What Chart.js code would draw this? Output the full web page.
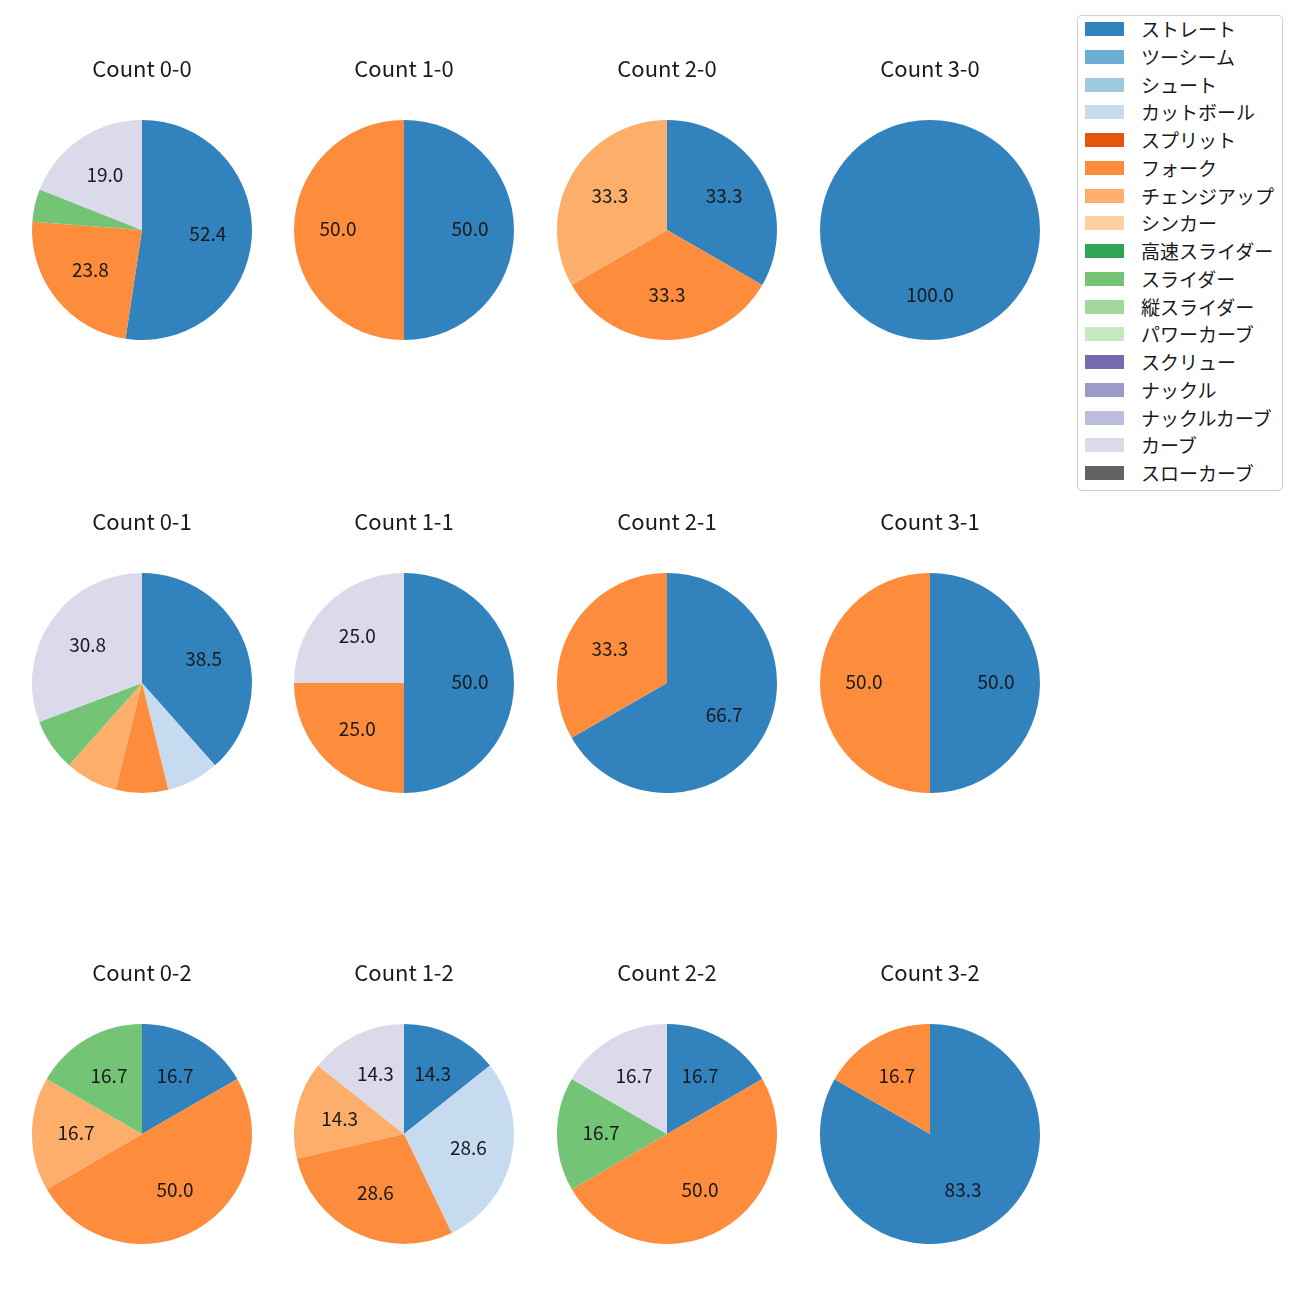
<!DOCTYPE html>
<html>
<head>
<meta charset="utf-8">
<script src="https://cdn.jsdelivr.net/npm/chart.js@4/dist/chart.umd.min.js"></script>
<style>
  body { margin: 0; background: #fff; }
  #wrap { position: relative; width: 1300px; height: 1300px; font-family: "Noto Sans CJK JP", sans-serif; }
  .pie { position: absolute; }
  #legend {
    position: absolute; left: 1077px; top: 15px; width: 204px; height: 474px;
    border: 1px solid #d0d0d0; border-radius: 4px; background: #fff;
  }
  .item { position: absolute; left: 0; height: 20px; font-size: 19px; line-height: 20px; color: #1a1a1a; }
  .swatch { position: absolute; left: 7px; top: 3px; width: 39px; height: 14px; }
  .item span { position: absolute; left: 63px; top: 0; white-space: nowrap; }
</style>
</head>
<body>
<div id="wrap"><div id="legend"></div></div>
<script>
// pitch types and colours (tab20c)
const pitchTypes = ['ストレート', 'ツーシーム', 'シュート', 'カットボール', 'スプリット', 'フォーク',
  'チェンジアップ', 'シンカー', '高速スライダー', 'スライダー', '縦スライダー', 'パワーカーブ',
  'スクリュー', 'ナックル', 'ナックルカーブ', 'カーブ', 'スローカーブ'];
const pitchColors = ['#3182bd', '#6baed6', '#9ecae1', '#c6dbef', '#e6550d', '#fd8d3c',
  '#fdae6b', '#fdd0a2', '#31a354', '#74c476', '#a1d99b', '#c7e9c0',
  '#756bb1', '#9e9ac8', '#bcbddc', '#dadaeb', '#636363'];

// percentage per pitch type, same order as pitchTypes
const count00 = [52.4, 0, 0, 0, 0, 23.8, 0, 0, 0, 4.8, 0, 0, 0, 0, 0, 19.0, 0];
const count10 = [50.0, 0, 0, 0, 0, 50.0, 0, 0, 0, 0, 0, 0, 0, 0, 0, 0, 0];
const count20 = [33.3, 0, 0, 0, 0, 33.3, 33.3, 0, 0, 0, 0, 0, 0, 0, 0, 0, 0];
const count30 = [100.0, 0, 0, 0, 0, 0, 0, 0, 0, 0, 0, 0, 0, 0, 0, 0, 0];
const count01 = [38.5, 0, 0, 7.7, 0, 7.7, 7.7, 0, 0, 7.7, 0, 0, 0, 0, 0, 30.8, 0];
const count11 = [50.0, 0, 0, 0, 0, 25.0, 0, 0, 0, 0, 0, 0, 0, 0, 0, 25.0, 0];
const count21 = [66.7, 0, 0, 0, 0, 33.3, 0, 0, 0, 0, 0, 0, 0, 0, 0, 0, 0];
const count31 = [50.0, 0, 0, 0, 0, 50.0, 0, 0, 0, 0, 0, 0, 0, 0, 0, 0, 0];
const count02 = [16.7, 0, 0, 0, 0, 50.0, 16.7, 0, 0, 16.7, 0, 0, 0, 0, 0, 0, 0];
const count12 = [14.3, 0, 0, 28.6, 0, 28.6, 14.3, 0, 0, 0, 0, 0, 0, 0, 0, 14.3, 0];
const count22 = [16.7, 0, 0, 0, 0, 50.0, 0, 0, 0, 16.7, 0, 0, 0, 0, 0, 16.7, 0];
const count32 = [83.3, 0, 0, 0, 0, 16.7, 0, 0, 0, 0, 0, 0, 0, 0, 0, 0, 0];

const countTitles = [
  ['Count 0-0', 'Count 1-0', 'Count 2-0', 'Count 3-0'],
  ['Count 0-1', 'Count 1-1', 'Count 2-1', 'Count 3-1'],
  ['Count 0-2', 'Count 1-2', 'Count 2-2', 'Count 3-2']
];
const countValues = [
  [count00, count10, count20, count30],
  [count01, count11, count21, count31],
  [count02, count12, count22, count32]
];

// layout
const colX = [141.5, 404, 667, 930];
const rowY = [229.5, 682.5, 1134];
const R = 110;
const FONT = '"Noto Sans CJK JP", sans-serif';

// draw the percentage inside each slice (matplotlib style, at 0.6 r)
const pctLabels = {
  id: 'pctLabels',
  afterDatasetsDraw(chart) {
    const ctx = chart.ctx;
    const meta = chart.getDatasetMeta(0);
    const data = chart.data.datasets[0].data;
    ctx.save();
    ctx.font = '19px ' + FONT;
    ctx.fillStyle = '#1a1a1a';
    ctx.textAlign = 'center';
    ctx.textBaseline = 'middle';
    meta.data.forEach((arc, i) => {
      if (data[i] < 10) return;
      const p = arc.getProps(['x', 'y', 'startAngle', 'endAngle', 'outerRadius'], true);
      const mid = (p.startAngle + p.endAngle) / 2;
      const r = p.outerRadius * 0.6;
      ctx.fillText(data[i].toFixed(1), p.x + Math.cos(mid) * r, p.y + Math.sin(mid) * r - 1);
    });
    ctx.restore();
  }
};

const wrap = document.getElementById('wrap');

countValues.forEach((row, r) => {
  row.forEach((values, c) => {
    const canvas = document.createElement('canvas');
    canvas.className = 'pie';
    canvas.style.left = (colX[c] - 120) + 'px';
    canvas.style.top = (rowY[r] - R - 70) + 'px';
    canvas.style.width = '240px';
    canvas.style.height = '300px';
    wrap.appendChild(canvas);

    new Chart(canvas, {
      type: 'pie',
      data: {
        labels: pitchTypes,
        datasets: [{
          data: values,
          backgroundColor: pitchColors,
          borderWidth: 0,
          hoverOffset: 0
        }]
      },
      options: {
        responsive: false,
        animation: false,
        layout: { padding: { left: 10, right: 10, top: 0, bottom: 10 } },
        plugins: {
          legend: { display: false },
          tooltip: { enabled: false },
          title: {
            display: true,
            text: countTitles[r][c],
            color: '#1a1a1a',
            font: { family: FONT, size: 22, weight: 'normal', lineHeight: 1.2 },
            padding: { top: 5, bottom: 38.6 }
          }
        }
      },
      plugins: [pctLabels]
    });
  });
});

// legend
const legend = document.getElementById('legend');
pitchTypes.forEach((name, i) => {
  const item = document.createElement('div');
  item.className = 'item';
  item.style.top = (3 + i * 27.75) + 'px';
  item.innerHTML = '<div class="swatch" style="background:' + pitchColors[i] + '"></div><span>' + name + '</span>';
  legend.appendChild(item);
});
</script>
</body>
</html>
